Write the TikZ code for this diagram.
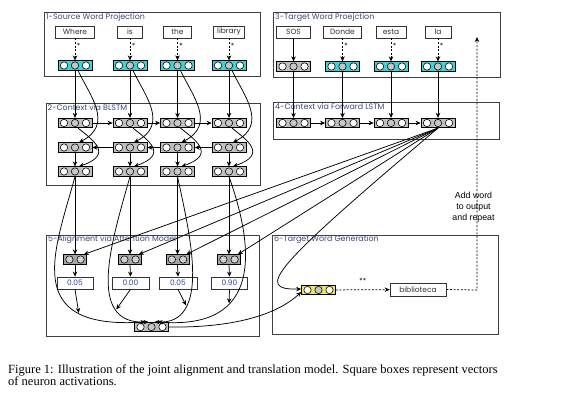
\documentclass[tikz,border=0pt]{standalone}
\usepackage{fontspec}
\setmainfont{Liberation Serif}
\newfontfamily\lab{Poppins}
\newfontfamily\arial{Liberation Sans}
\usetikzlibrary{arrows.meta}
\definecolor{cyanv}{RGB}{64,208,216}
\definecolor{yellowv}{RGB}{240,226,100}
\definecolor{titlec}{RGB}{60,72,120}
\definecolor{numc}{RGB}{40,70,160}
\begin{document}
\begin{tikzpicture}[x=1pt,y=-1pt,
  >={Stealth[length=5pt,width=4.5pt]},
  conn/.style={->, line width=0.75pt},
  dconn/.style={->, line width=0.75pt, dash pattern=on 2pt off 1.6pt},
  frame/.style={draw=black!75, line width=1pt},
  title/.style={anchor=west, font=\lab\fontsize{7.9}{8}\selectfont, text=titlec, inner sep=0.5pt},
  word/.style={draw=black!80, fill=white, line width=0.7pt, minimum height=12pt, inner sep=1pt, font=\lab\fontsize{7.5}{8}\selectfont, text=black!80},
  star/.style={font=\lab\fontsize{7}{7}\selectfont, inner sep=1.5pt},
  vec3/.style={draw=black, line width=0.7pt, minimum width=34pt, minimum height=9.5pt, inner sep=0pt, fill=#1,
    path picture={
      \foreach \dx/\cc in {-11/white,0/black!22,11/white}
        \draw[line width=0.55pt, fill=\cc] ([xshift=\dx pt]path picture bounding box.center) circle (3.7pt);}},
  vec3/.default=black!25,
  vec2/.style={draw=black, line width=0.7pt, minimum width=23pt, minimum height=9.5pt, inner sep=0pt, fill=black!35,
    path picture={
      \foreach \dx in {-5.6,5.6}
        \draw[line width=0.55pt, fill=black!18] ([xshift=\dx pt]path picture bounding box.center) circle (3.7pt);}},
]
\useasboundingbox (0,0) rectangle (564,407);
\fill[white] (0,0) rectangle (564,407);

% frames
\draw[frame] (44,12.5) rectangle (260,76);
\draw[frame] (46,103) rectangle (260,185);
\draw[frame] (273,12) rectangle (500,77);
\draw[frame] (273,102) rectangle (499,139);
\draw[frame] (46,235) rectangle (259,336);
\draw[frame] (272,235) rectangle (498,334);
\node[title] (t1) at (45.5,18) {1-Source Word Projection};
\node[title] (t2) at (47,107.5) {2-Context via BLSTM};
\node[title] (t3) at (274.5,17.5) {3-Target Word Proejction};
\node[title] (t4) at (274.5,107) {4-Context via Forward LSTM};
\node[title] (t5) at (47.5,240) {5-Alignment via Attention Model};
\node[title] (t6) at (273.5,239.5) {6-Target Word Generation};

% source words and embeddings
\node[word, minimum width=39pt] (w1) at (75,32) {Where};
\node[word, minimum width=25pt] (w2) at (130,32) {is};
\node[word, minimum width=28pt] (w3) at (177.5,32) {the};
\node[word, minimum width=31pt] (w4) at (229,32) {library};
\foreach \i/\x in {1/75,2/130,3/177.5,4/229}{
  \node[vec3=cyanv] (e\i) at (\x,65.5) {};
  \node[vec3] (fw\i) at (\x,123) {};
  \node[vec3] (bw\i) at (\x,147.5) {};
  \node[vec3] (hc\i) at (\x,171.5) {};
  \node[vec2] (a\i) at (\x,259.5) {};
}
% target words and vectors
\node[word, minimum width=34pt] (s0) at (293.5,32) {SOS};
\node[word, minimum width=38pt] (s1) at (342.5,32) {Donde};
\node[word, minimum width=30pt] (s2) at (391,32) {esta};
\node[word, minimum width=26pt] (s3) at (438,32) {la};
\node[vec3] (tv0) at (293.5,66.5) {};
\node[vec3=cyanv] (tv1) at (342.5,66.5) {};
\node[vec3=cyanv] (tv2) at (391,66.5) {};
\node[vec3=cyanv] (tv3) at (438,66.5) {};
\foreach \i/\x in {0/293.5,1/342.5,2/391,3/438}{
  \node[vec3] (f\i) at (\x,123) {};
}
% weights
\node[word, minimum width=36pt, text=numc] (wt1) at (75,283) {0.05};
\node[word, minimum width=37pt, text=numc] (wt2) at (130.5,283) {0.00};
\node[word, minimum width=38pt, text=numc] (wt3) at (178,283) {0.05};
\node[word, minimum width=36pt, text=numc] (wt4) at (229.5,283) {0.90};
\node[vec3] (c) at (151.5,327) {};
% generation
\node[vec3=yellowv] (gen) at (318.5,290) {};
\node[word, minimum width=56pt, minimum height=13pt] (bib) at (418,289.5) {biblioteca};
\node[align=center, font=\arial\fontsize{8.8}{10.8}\selectfont, inner sep=0pt] (aw) at (473.5,207) {Add word\\to output\\and repeat};
\coordinate (corner) at (477,290);
\coordinate (top) at (477,37);

% connectors: source projection
\foreach \i in {1,...,4}{
  \draw[dconn] (w\i) -- node[star, right, pos=0.35] {*} (e\i);
  \draw[conn] (e\i.south) -- (fw\i.north);
  \draw[conn] ([xshift=3pt]e\i.south) .. controls +(12,25) and +(35,-18) .. ([xshift=4pt]bw\i.north);
  \draw[conn] ([xshift=3pt]fw\i.south) .. controls +(15,12) and +(35,-12) .. ([xshift=4pt]hc\i.north);
  \draw[conn] (bw\i.south) -- (hc\i.north);
  \draw[conn] (hc\i.south) -- (a\i.north);
  \draw[conn] (a\i.south) -- (wt\i.north);
}
\foreach \i/\j in {1/2,2/3,3/4}{
  \draw[conn] (fw\i.east) -- (fw\j.west);
  \draw[conn] (bw\j.west) -- (bw\i.east);
}
% target side
\draw[conn] (s0) -- (tv0);
\foreach \i in {1,2,3}{
  \draw[dconn] (s\i) -- node[star, right, pos=0.35] {*} (tv\i);
}
\foreach \i in {0,...,3}{
  \draw[conn] (tv\i.south) -- (f\i.north);
}
\foreach \i/\j in {0/1,1/2,2/3}{
  \draw[conn] (f\i.east) -- (f\j.west);
}
% attention
\foreach \i in {1,...,4}{
  \draw[conn] (f3.south) -- (a\i.30);
}
\draw[conn] (hc1.south) .. controls (55,250) and (20,330) .. ([xshift=-6pt]c.north) coordinate[pos=0.75] (m1);
\draw[conn] (hc2.south) .. controls (112,240) and (85,325) .. ([xshift=-3pt]c.north) coordinate[pos=0.75] (m2);
\draw[conn] (hc3.south) .. controls (190,235) and (212,325) .. ([xshift=3pt]c.north) coordinate[pos=0.72] (m3);
\draw[conn] (hc4.south) .. controls (255,250) and (262,330) .. ([xshift=6pt]c.north) coordinate[pos=0.66] (m4);
\foreach \i in {1,...,4}{
  \draw[conn] (wt\i.south) -- (m\i);
}
% generation
\draw[conn] (f3.south) .. controls (270,270) and (255,290) .. ([yshift=1pt]gen.west);
\draw[conn] (c.east) .. controls (240,328) and (280,312) .. ([yshift=-2pt]gen.west);
\draw[dconn] (gen) -- node[above=2.5pt, font=\lab\fontsize{7}{7}\selectfont] {**} (bib);
\draw[line width=0.75pt, dash pattern=on 2pt off 1.6pt, ->] (bib.east) -- (corner) -- (top);

% caption
\node[anchor=base west, inner sep=0pt, font=\fontsize{12.5}{14}\selectfont] (cap1) at (8,373.5) {Figure 1: Illustration of the joint alignment and translation model. Square boxes represent vectors};
\node[anchor=base west, inner sep=0pt, font=\fontsize{12.5}{14}\selectfont] (cap2) at (8,385.8) {of neuron activations.};
\end{tikzpicture}
\end{document}
